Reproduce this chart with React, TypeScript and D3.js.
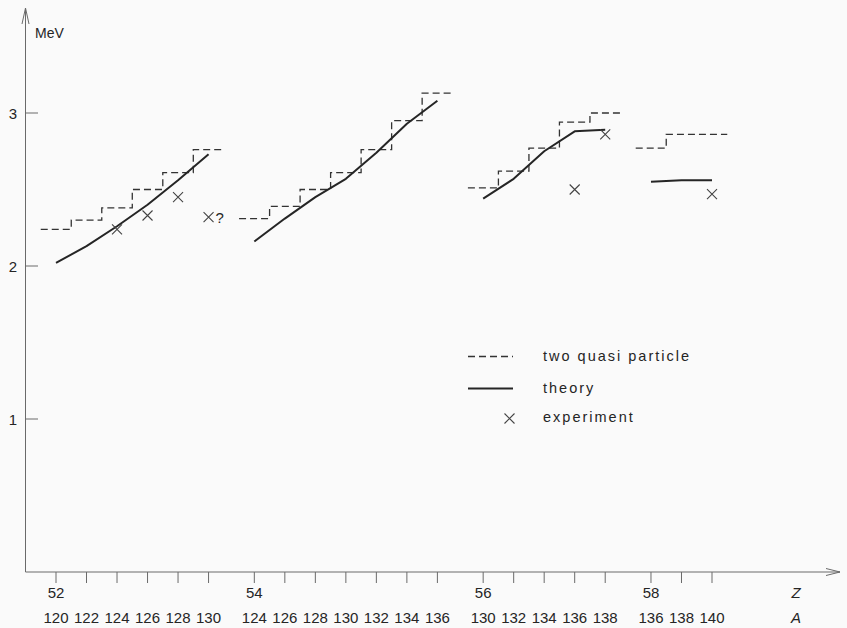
import React from 'react';
import * as d3 from 'd3';

// proton number for each group, and the mass numbers drawn under it
const zValues = [52, 54, 56, 58];
const massNumbers = [
  [120, 122, 124, 126, 128, 130],
  [124, 126, 128, 130, 132, 134, 136],
  [130, 132, 134, 136, 138],
  [136, 138, 140],
];

// energies in MeV, one per mass number
const quasiParticle = [
  [2.24, 2.30, 2.38, 2.50, 2.61, 2.76],
  [2.31, 2.39, 2.50, 2.61, 2.76, 2.95, 3.13],
  [2.51, 2.62, 2.77, 2.94, 3.0],
  [2.77, 2.86, 2.86],
];
const theory = [
  [2.02, 2.13, 2.26, 2.4, 2.56, 2.73],
  [2.16, 2.31, 2.45, 2.57, 2.74, 2.93, 3.08],
  [2.44, 2.57, 2.75, 2.88, 2.89],
  [2.55, 2.56, 2.56],
];
const experiment = [
  [{ A: 124, E: 2.24 }, { A: 126, E: 2.33 }, { A: 128, E: 2.45 }, { A: 130, E: 2.32, doubtful: true }],
  [],
  [{ A: 136, E: 2.5 }, { A: 138, E: 2.86 }],
  [{ A: 140, E: 2.47 }],
];
const yTicks = [1, 2, 3];

const W = 847;
const H = 628;
const GAP = 1.5; // extra tick slots between groups
const FONT = '"Liberation Sans", Arial, sans-serif';

const App = () => {
  // slot index of each group's first tick
  const starts: number[] = [];
  let acc = 0;
  massNumbers.forEach((arr) => {
    starts.push(acc);
    acc += arr.length - 1 + GAP;
  });
  const lastSlot = acc - GAP;

  const x = d3.scaleLinear().domain([0, lastSlot]).range([56, 712]);
  const y = d3.scaleLinear().domain([0, 3]).range([572, 113]);
  const half = (x(1) - x(0)) / 2;
  const pos = (g: number, A: number) => x(starts[g] + (A - massNumbers[g][0]) / 2);

  const line = d3.line<[number, number]>();

  const ink = '#252525';
  const axisCol = '#6a6a6a';

  const cross = (cx: number, cy: number, key: string) => (
    <path
      key={key}
      d={`M${cx - 5},${cy - 5}L${cx + 5},${cy + 5}M${cx - 5},${cy + 5}L${cx + 5},${cy - 5}`}
      stroke="#444"
      strokeWidth={1.1}
      fill="none"
    />
  );

  return (
    <svg
      width={W}
      height={H}
      style={{ position: 'absolute', left: 0, top: 0, background: '#fafafa' }}
      fontFamily={FONT}
    >
      <rect width={W} height={H} fill="#fafafa" />

      {/* axes */}
      <line x1={25.5} y1={572} x2={25.5} y2={8} stroke={axisCol} strokeWidth={1} />
      <path d="M22,24L25.5,8L29,24" fill="none" stroke={axisCol} strokeWidth={1} />
      <line x1={25.5} y1={572} x2={840} y2={572} stroke={axisCol} strokeWidth={1} />
      <path d="M826,568.5L840,572L826,575.5" fill="none" stroke={axisCol} strokeWidth={1} />
      <text x={35} y={38} fontSize={14} fill={ink}>MeV</text>

      {yTicks.map((t) => (
        <g key={t}>
          <line x1={25.5} x2={38} y1={y(t)} y2={y(t)} stroke={axisCol} />
          <text x={13} y={y(t) + 5.5} fontSize={15} textAnchor="middle" fill={ink}>{t}</text>
        </g>
      ))}

      {massNumbers.map((arr, g) => (
        <g key={g}>
          {arr.map((A) => (
            <g key={A}>
              <line x1={pos(g, A)} x2={pos(g, A)} y1={572} y2={583} stroke={axisCol} />
              <text x={pos(g, A)} y={623} fontSize={15} textAnchor="middle" fill={ink}>{A}</text>
            </g>
          ))}
          <text x={pos(g, arr[0])} y={598} fontSize={15} textAnchor="middle" fill={ink}>{zValues[g]}</text>
        </g>
      ))}
      <text x={796} y={598} fontSize={15} fontStyle="italic" textAnchor="middle" fill={ink}>Z</text>
      <text x={796} y={623} fontSize={15} fontStyle="italic" textAnchor="middle" fill={ink}>A</text>

      {/* two quasi particle staircase */}
      {quasiParticle.map((vals, g) => {
        const pts: [number, number][] = [];
        vals.forEach((v, i) => {
          const cx = pos(g, massNumbers[g][i]);
          pts.push([cx - half, y(v)], [cx + half, y(v)]);
        });
        return (
          <path key={g} d={line(pts) || ''} fill="none" stroke="#333" strokeWidth={1.3} strokeDasharray="7,4" />
        );
      })}

      {/* theory */}
      {theory.map((vals, g) => (
        <path
          key={g}
          d={line(vals.map((v, i) => [pos(g, massNumbers[g][i]), y(v)] as [number, number])) || ''}
          fill="none"
          stroke={ink}
          strokeWidth={2}
          strokeLinejoin="round"
        />
      ))}

      {/* experiment */}
      {experiment.map((pts, g) =>
        pts.map((p) => (
          <g key={`${g}-${p.A}`}>
            {cross(pos(g, p.A), y(p.E), 'c')}
            {p.doubtful && (
              <text x={pos(g, p.A) + 7} y={y(p.E) + 5.5} fontSize={15} fill={ink}>?</text>
            )}
          </g>
        ))
      )}

      {/* legend */}
      <line x1={468} x2={513} y1={356.5} y2={356.5} stroke="#333" strokeWidth={1.3} strokeDasharray="7,4" />
      <text x={543} y={361} fontSize={14.5} letterSpacing={2} fill={ink}>two quasi particle</text>
      <line x1={468} x2={513} y1={388.5} y2={388.5} stroke={ink} strokeWidth={2} />
      <text x={543} y={393} fontSize={14.5} letterSpacing={2} fill={ink}>theory</text>
      {cross(509.5, 418.5, 'leg')}
      <text x={543} y={422} fontSize={14.5} letterSpacing={2} fill={ink}>experiment</text>
    </svg>
  );
};

export default App;
